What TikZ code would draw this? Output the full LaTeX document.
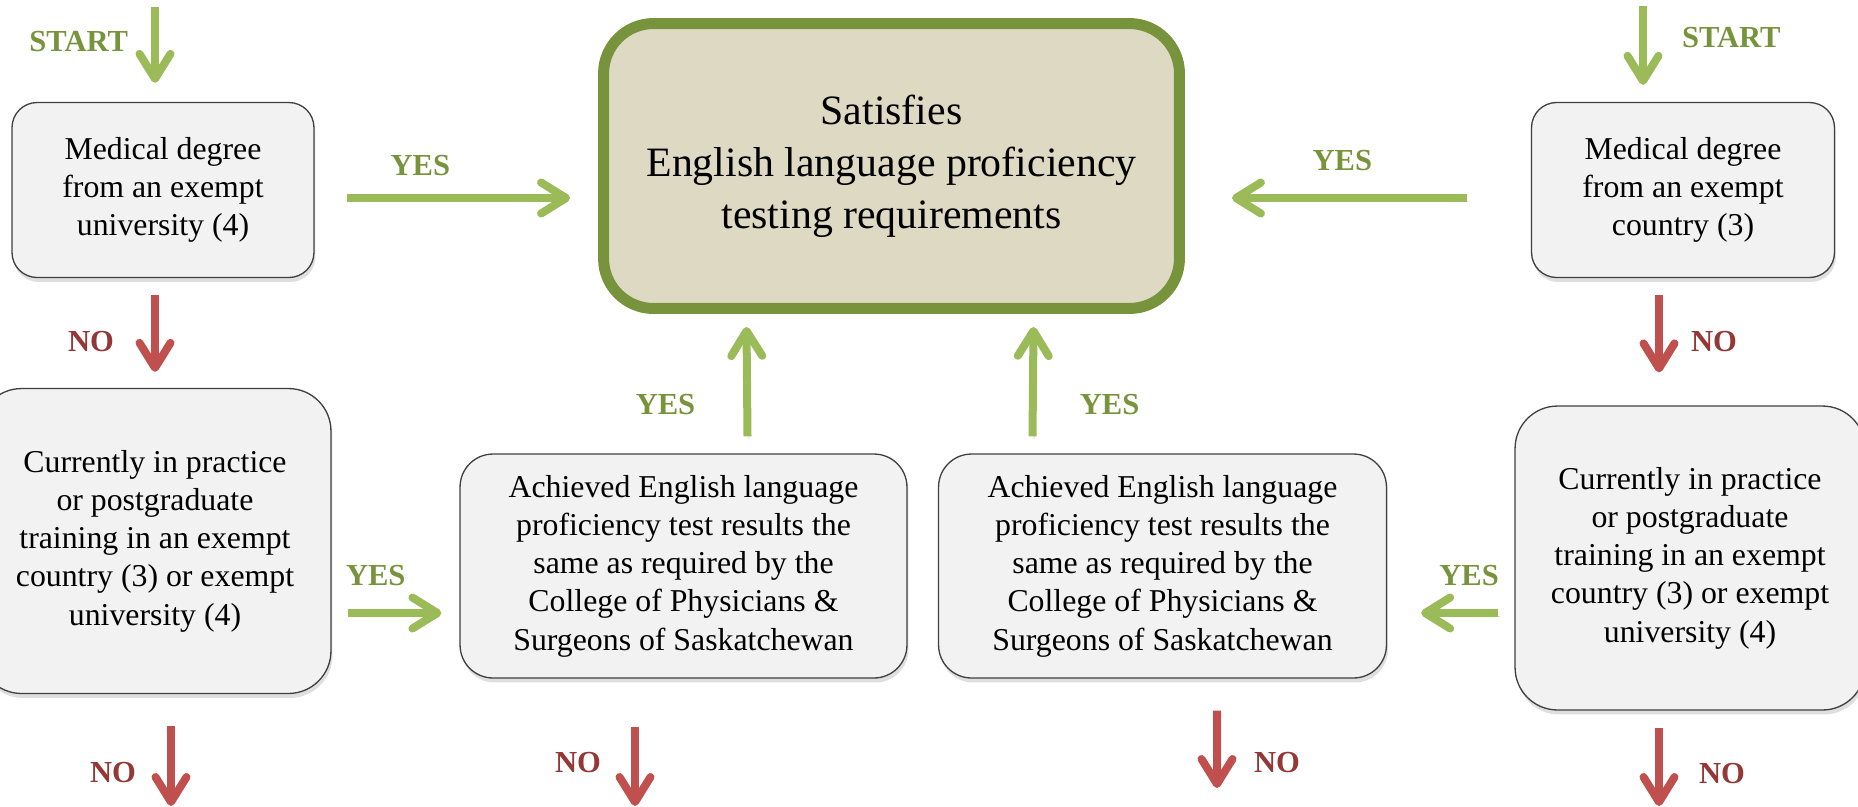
\documentclass[tikz,border=0pt]{standalone}
\usepackage{fontspec}
\setmainfont{Liberation Serif}
\usetikzlibrary{
  calc
 , arrows.meta
 , shadows
}

\definecolor{yesgreen}{HTML}{9BBB59}
\definecolor{yestext}{HTML}{77933C}
\definecolor{nored}{HTML}{C0504D}
\definecolor{notext}{HTML}{953735}
\definecolor{askfill}{HTML}{F2F2F2}
\definecolor{askline}{HTML}{404040}
\definecolor{goalfill}{HTML}{DDD9C3}
\definecolor{goalline}{HTML}{77933C}

\tikzset{
  askbox/.style={draw=askline, line width=0.75pt, fill=askfill,
    align=center, inner sep=0pt,
    font=\fontsize{18.1}{21.8}\selectfont,
    drop shadow={shadow xshift=0.03cm, shadow yshift=-0.09cm, opacity=0.25}},
  goalbox/.style={draw=goalline, line width=0.22cm, fill=goalfill,
    align=center, inner sep=0pt, rounded corners=1cm,
    font=\fontsize{23.8}{29.5}\selectfont},
  flowarrow/.style={line width=0.16cm,
    -{Straight Barb[length=0.5cm, width=0.62cm, round]},
    preaction={draw=black!18, transform canvas={shift={(1.5,3)}}}},
  yesarrow/.style={flowarrow, draw=yesgreen},
  noarrow/.style={flowarrow, draw=nored},
  yeslabel/.style={text=yestext, inner sep=0pt,
    font=\bfseries\fontsize{17.4}{20}\selectfont},
  nolabel/.style={text=notext, inner sep=0pt,
    font=\bfseries\fontsize{17.4}{20}\selectfont},
}

\begin{document}
\begin{tikzpicture}[x=0.02cm, y=-0.02cm]
  \useasboundingbox (0,0) rectangle (1858,806);

  \node[goalbox, minimum width=11.52cm, minimum height=5.7cm] (satisfies) at (891.5,166)
    {Satisfies\\English language proficiency\\testing requirements};

  \node[askbox, rounded corners=0.5cm, minimum width=6.04cm, minimum height=3.5cm] (medUni) at (163,190)
    {Medical degree\\from an exempt\\university (4)};
  \node[askbox, rounded corners=0.5cm, minimum width=6.06cm, minimum height=3.5cm] (medCountry) at (1683,190)
    {Medical degree\\from an exempt\\country (3)};

  \node[askbox, rounded corners=0.85cm, minimum width=7.04cm, minimum height=6.1cm] (practiceL) at (155,541)
    {Currently in practice\\or postgraduate\\training in an exempt\\country (3) or exempt\\university (4)};
  \node[askbox, rounded corners=0.85cm, minimum width=7cm, minimum height=6.08cm] (practiceR) at (1690,558)
    {Currently in practice\\or postgraduate\\training in an exempt\\country (3) or exempt\\university (4)};

  \node[askbox, rounded corners=0.66cm, minimum width=8.94cm, minimum height=4.48cm] (testL) at (683.5,566)
    {Achieved English language\\proficiency test results the\\same as required by the\\College of Physicians \&\\Surgeons of Saskatchewan};
  \node[askbox, rounded corners=0.66cm, minimum width=8.96cm, minimum height=4.48cm] (testR) at (1162.5,566)
    {Achieved English language\\proficiency test results the\\same as required by the\\College of Physicians \&\\Surgeons of Saskatchewan};

  % entry points
  \draw[yesarrow] (155,7) coordinate (startL) --node[yeslabel, left=0.46cm, pos=0.45]{START} ($(medUni.north)+(-8,-19)$);
  \draw[yesarrow] (1643,6) coordinate (startR) --node[yeslabel, right=0.7cm, pos=0.4]{START} ($(medCountry.north)+(-40,-17)$);

  % yes: straight to the goal
  \draw[yesarrow] ($(medUni.east)+(32,8)$) --node[yeslabel, above=0.36cm, pos=0.33]{YES} ($(satisfies.west)+(-28,32)$);
  \draw[yesarrow] ($(medCountry.west)+(-64,8)$) --node[yeslabel, above=0.46cm, pos=0.53]{YES} ($(satisfies.east)+(47,32)$);
  \draw[yesarrow] ($(testL.north)+(64,-17)$) --node[yeslabel, left=0.96cm, pos=0.29]{YES} ($(satisfies.south)+(-145,13)$);
  \draw[yesarrow] ($(testR.north)+(-130,-17)$) --node[yeslabel, right=0.86cm, pos=0.29]{YES} ($(satisfies.south)+(142,13)$);

  % yes: on to the test results
  \draw[yesarrow] ($(practiceL.east)+(16,72)$) --node[yeslabel, above=0.46cm, pos=0.3]{YES} ($(testL.west)+(-18,47)$);
  \draw[yesarrow] ($(practiceR.west)+(-16,55)$) --node[yeslabel, above=0.46cm, pos=0.38]{YES} ($(testR.east)+(34,47)$);

  % no
  \draw[noarrow] ($(medUni.south)+(-8,17)$) --node[nolabel, left=0.74cm, pos=0.6]{NO} ($(practiceL.north)+(0,-16)$);
  \draw[noarrow] ($(medCountry.south)+(-24,17)$) --node[nolabel, right=0.56cm, pos=0.6]{NO} ($(practiceR.north)+(-31,-33)$);
  \draw[noarrow] ($(practiceL.south)+(16,32)$) --node[nolabel, left=0.62cm, pos=0.58]{NO} (171,806) coordinate (exitA);
  \draw[noarrow] ($(testL.south)+(-48.5,48)$) --node[nolabel, left=0.6cm, pos=0.45]{NO} (635,806) coordinate (exitB);
  \draw[noarrow] ($(testR.south)+(54.5,32)$) --node[nolabel, right=0.66cm, pos=0.67]{NO} (1217,788) coordinate (exitC);
  \draw[noarrow] ($(practiceR.south)+(-31,17)$) --node[nolabel, right=0.72cm, pos=0.58]{NO} (1659,806) coordinate (exitD);
\end{tikzpicture}
\end{document}
